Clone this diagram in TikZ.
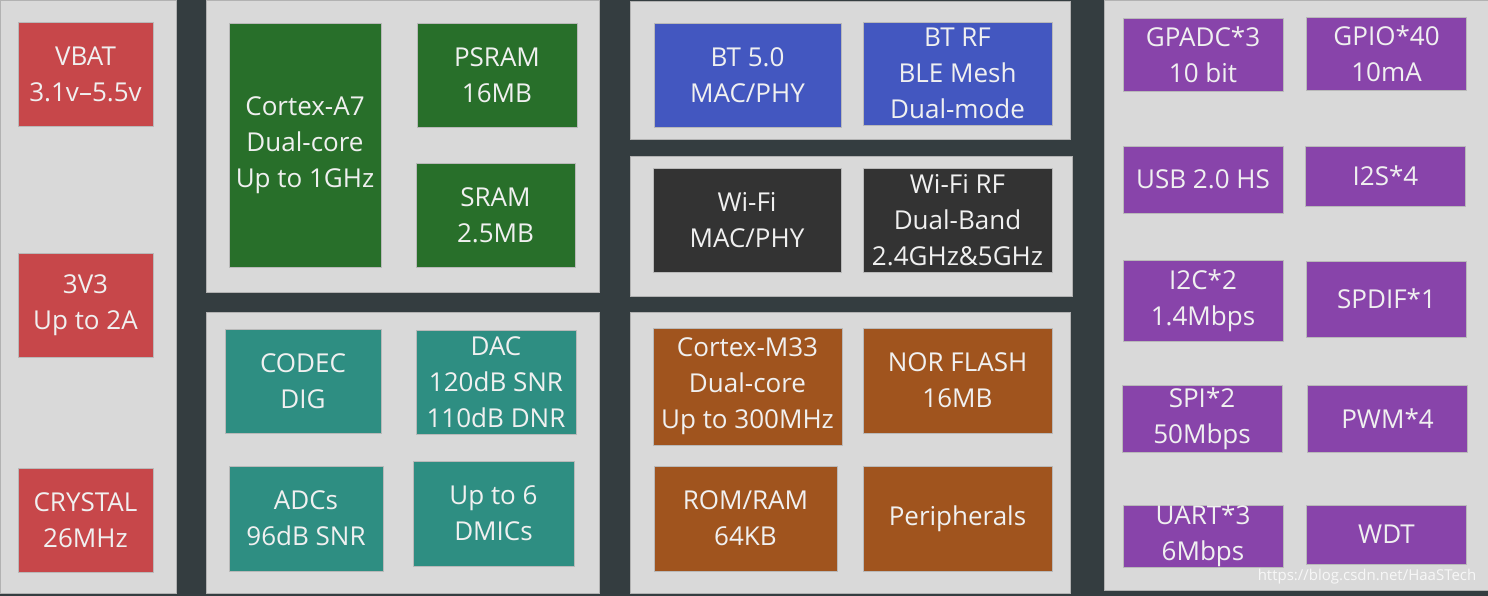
\documentclass[tikz,border=0pt]{standalone}
\usepackage{fontspec}
\setmainfont{Open Sans}
\definecolor{bgdark}{RGB}{52,61,64}
\definecolor{panelgrey}{RGB}{217,217,217}
\definecolor{pwrred}{RGB}{199,71,74}
\definecolor{cpugreen}{RGB}{40,111,42}
\definecolor{audioteal}{RGB}{46,142,130}
\definecolor{btblue}{RGB}{67,87,192}
\definecolor{wifidark}{RGB}{51,51,51}
\definecolor{mcubrown}{RGB}{160,84,30}
\definecolor{iopurple}{RGB}{136,68,170}
\definecolor{boxtext}{RGB}{240,240,240}
\begin{document}
\begin{tikzpicture}[x=1pt, y=-1pt,
  panel/.style = {fill=panelgrey, draw=gray!60, line width=0.6pt},
  blk/.style = {draw=gray!55, line width=0.6pt, text=boxtext, align=center, inner sep=0pt, font=\fontsize{26}{36}\selectfont},
  pwr/.style = {blk, fill=pwrred, minimum width=135pt, minimum height=104pt},
  cpu/.style = {blk, fill=cpugreen},
  audio/.style = {blk, fill=audioteal},
  bt/.style = {blk, fill=btblue},
  wifi/.style = {blk, fill=wifidark},
  mcu/.style = {blk, fill=mcubrown},
  io/.style = {blk, fill=iopurple, minimum width=160pt}]
\useasboundingbox (0,0) rectangle (1488,596);
\fill[bgdark] (0,0) rectangle (1488,596);

% panels
\draw[panel] (0,0) rectangle (176,593);
\draw[panel] (206,0) rectangle (599,292);
\draw[panel] (206,312) rectangle (599,593);
\draw[panel] (630,1) rectangle (1070,139);
\draw[panel] (630,156) rectangle (1072,296);
\draw[panel] (630,312) rectangle (1070,593);
\draw[panel] (1104,0) rectangle (1488,590);

% power
\node[pwr] (vbat) at (85.5,74) {VBAT\\3.1v–5.5v};
\node[pwr] (v3v3) at (85.5,305) {3V3\\Up to 2A};
\node[pwr] (crystal) at (85.5,520) {CRYSTAL\\26MHz};

% application core
\node[cpu, minimum width=152pt, minimum height=244pt] (a7) at (305,145) {Cortex-A7\\Dual-core\\Up to 1GHz};
\node[cpu, minimum width=160pt, minimum height=104pt] (psram) at (497,75) {PSRAM\\16MB};
\node[cpu, minimum width=159pt, minimum height=104pt] (sram) at (495.5,215) {SRAM\\2.5MB};

% audio
\node[audio, minimum width=156pt, minimum height=104pt] (codec) at (303,381) {CODEC\\DIG};
\node[audio, minimum width=160pt, minimum height=104pt] (dac) at (496,382) {DAC\\120dB SNR\\110dB DNR};
\node[audio, minimum width=154pt, minimum height=105pt] (adc) at (306,518.5) {ADCs\\96dB SNR};
\node[audio, minimum width=161pt, minimum height=105pt] (dmic) at (493.5,513.5) {Up to 6\\DMICs};

% bluetooth
\node[bt, minimum width=187pt, minimum height=104pt] (btmac) at (747.5,75) {BT 5.0\\MAC/PHY};
\node[bt, minimum width=189pt, minimum height=103pt] (btrf) at (957.5,73.5) {BT RF\\BLE Mesh\\Dual-mode};

% wifi
\node[wifi, minimum width=188pt, minimum height=104pt] (wifimac) at (747,220) {Wi-Fi\\MAC/PHY};
\node[wifi, minimum width=189pt, minimum height=104pt] (wifirf) at (957.5,220) {Wi-Fi RF\\Dual-Band\\2.4GHz\&5GHz};

% mcu
\node[mcu, minimum width=189pt, minimum height=117pt] (m33) at (747.5,386.5) {Cortex-M33\\Dual-core\\Up to 300MHz};
\node[mcu, minimum width=189pt, minimum height=105pt] (norflash) at (957.5,380.5) {NOR FLASH\\16MB};
\node[mcu, minimum width=183pt, minimum height=105pt] (romram) at (745.5,518.5) {ROM/RAM\\64KB};
\node[mcu, minimum width=189pt, minimum height=105pt] (periph) at (957.5,518.5) {Peripherals};

% interfaces
\node[io, minimum height=73pt] (gpadc) at (1203,54.5) {GPADC*3\\10 bit};
\node[io, minimum height=73pt] (gpio) at (1386.5,53.5) {GPIO*40\\10mA};
\node[io, minimum height=67pt] (usb) at (1203,179.5) {USB 2.0 HS};
\node[io, minimum height=60pt] (i2s) at (1385.5,176) {I2S*4};
\node[io, minimum height=81pt] (i2c) at (1203,300.5) {I2C*2\\1.4Mbps};
\node[io, minimum height=76pt] (spdif) at (1386.5,299) {SPDIF*1};
\node[io, minimum height=67pt] (spi) at (1202,418.5) {SPI*2\\50Mbps};
\node[io, minimum height=67pt] (pwm) at (1387.5,418.5) {PWM*4};
\node[io, minimum height=62pt] (uart) at (1203,536) {UART*3\\6Mbps};
\node[io, minimum height=59pt] (wdt) at (1386.5,534.5) {WDT};

\node[text=white, opacity=0.8, font=\fontsize{15}{18}\selectfont] (mark) at (1367,577) {https://blog.csdn.net/HaaSTech};
\end{tikzpicture}
\end{document}
